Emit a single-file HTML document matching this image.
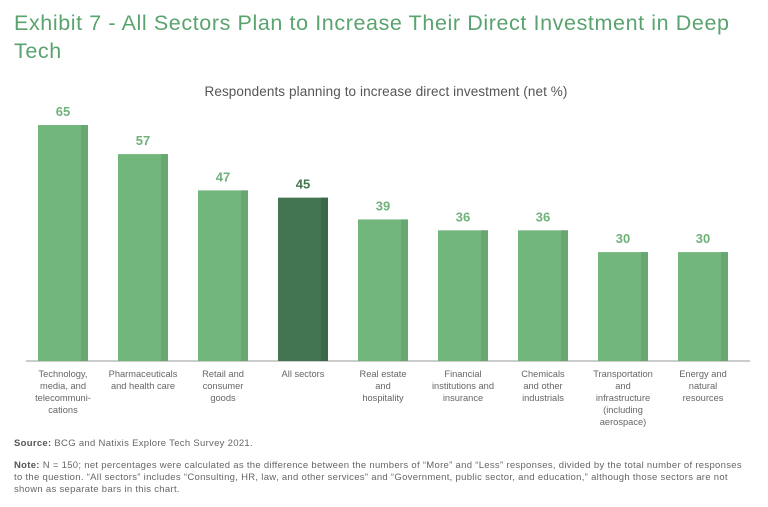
<!DOCTYPE html>
<html><head><meta charset="utf-8"><style>
body{margin:0;background:#fff;width:768px;height:507px;overflow:hidden;font-family:"Liberation Sans",sans-serif}
#title{position:absolute;left:14px;top:9px;font-size:21.5px;line-height:28px;color:#5aa36e;width:730px;letter-spacing:0.6px}
.note{position:absolute;left:14px;font-size:9.5px;color:#666;line-height:12px;width:735px;letter-spacing:0.3px}
.note b{color:#555}
</style></head><body>
<div id="title">Exhibit 7 - All Sectors Plan to Increase Their Direct Investment in Deep Tech</div>
<svg id="chart" width="768" height="507" style="position:absolute;left:0;top:0">
<text x="386" y="96" text-anchor="middle" font-size="13.5" letter-spacing="0.1" fill="#555">Respondents planning to increase direct investment (net %)</text>
<line x1="26" y1="361" x2="750" y2="361" stroke="#999" stroke-width="1"/>
<g id="bars"></g>
</svg>
<div class="note" style="top:438px"><b>Source:</b> BCG and Natixis Explore Tech Survey 2021.</div>
<div class="note" style="top:460px"><b>Note:</b> N = 150; net percentages were calculated as the difference between the numbers of “More” and “Less” responses, divided by the total number of responses to the question. “All sectors” includes “Consulting, HR, law, and other services” and “Government, public sector, and education,” although those sectors are not shown as separate bars in this chart.</div>
<script>
const categories=[["Technology,","media, and","telecommuni-","cations"],["Pharmaceuticals","and health care"],["Retail and","consumer","goods"],["All sectors"],["Real estate","and","hospitality"],["Financial","institutions and","insurance"],["Chemicals","and other","industrials"],["Transportation","and","infrastructure","(including","aerospace)"],["Energy and","natural","resources"]];
const values=[65,57,47,45,39,36,36,30,30];
const highlight=[false,false,false,true,false,false,false,false,false];
const NS="http://www.w3.org/2000/svg";
const g=document.getElementById('bars');
const base=361, scale=3.63;
function xc(i){return 63+i*80;}
function yv(v){return base-v*scale;}
values.forEach((v,i)=>{
 const x=xc(i)-25,y=yv(v),h=base-y;
 const hl=highlight[i];
 const r=document.createElementNS(NS,'rect');
 r.setAttribute('x',x);r.setAttribute('y',y);r.setAttribute('width',50);r.setAttribute('height',h);
 r.setAttribute('fill',hl?'#437552':'#73b67c');
 
 
 g.appendChild(r);
 const s=document.createElementNS(NS,'rect');
 s.setAttribute('x',x+43);s.setAttribute('y',y);s.setAttribute('width',7);s.setAttribute('height',h);
 s.setAttribute('fill',hl?'#3a6848':'#67a771');
 
 
 g.appendChild(s);
 const t=document.createElementNS(NS,'text');
 t.setAttribute('x',xc(i));t.setAttribute('y',y-9);t.setAttribute('text-anchor','middle');
 t.setAttribute('font-size','13');t.setAttribute('font-weight','bold');
 t.setAttribute('fill',hl?'#437552':'#6fb27a');
 t.textContent=v;
 
 
 g.appendChild(t);
 const lab=document.createElementNS(NS,'text');
 lab.setAttribute('text-anchor','middle');lab.setAttribute('font-size','9.3');lab.setAttribute('fill','#666');
 
 
 categories[i].forEach((ln,k)=>{
  const ts=document.createElementNS(NS,'tspan');
  ts.setAttribute('x',xc(i));ts.setAttribute('y',377+k*12);ts.textContent=ln;lab.appendChild(ts);
 });
 g.appendChild(lab);
});
</script>
</body></html>
